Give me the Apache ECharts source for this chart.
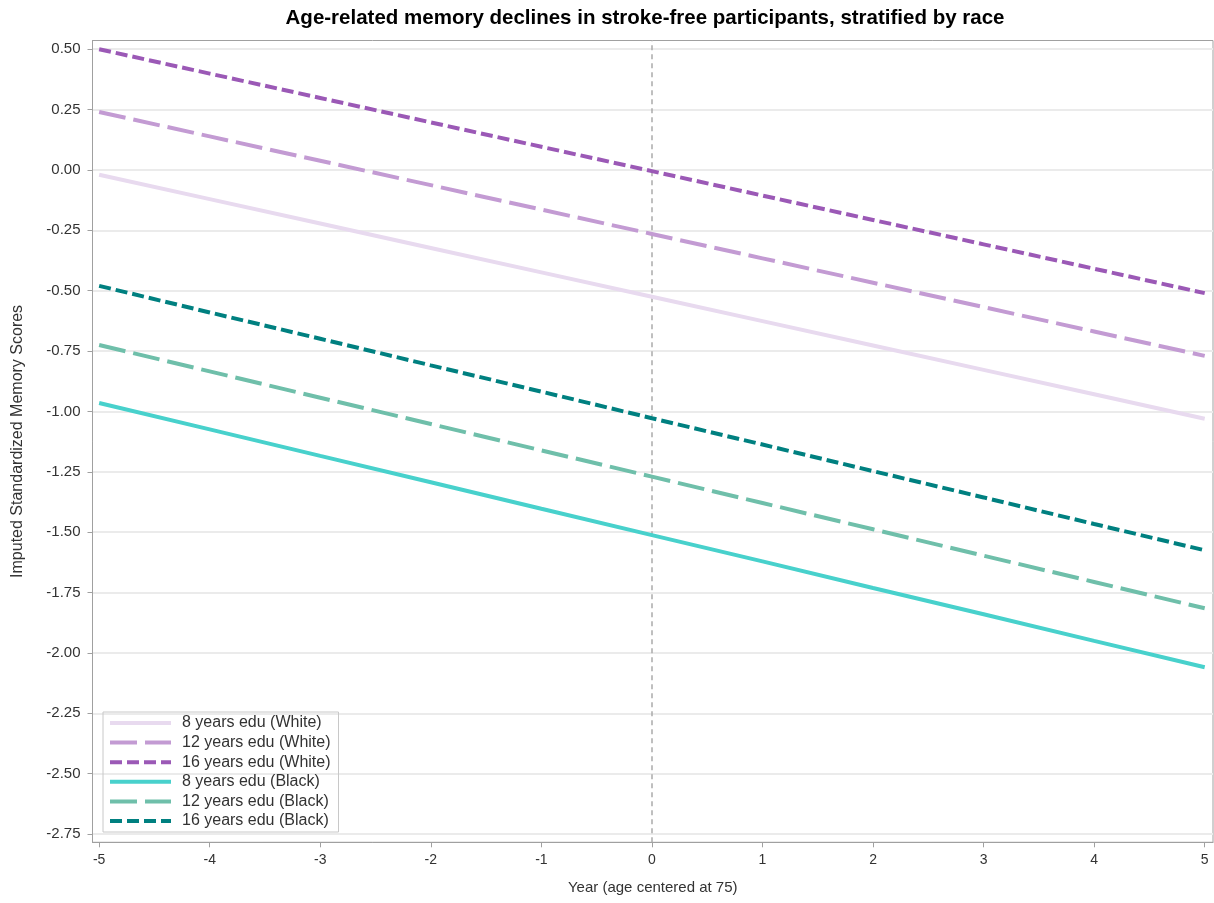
<!DOCTYPE html>
<html>
<head>
<meta charset="utf-8">
<script src="https://cdn.jsdelivr.net/npm/echarts@6/dist/echarts.min.js"></script>
<style>
html,body{margin:0;padding:0;background:#fff;}
#chart{width:1214px;height:903px;}
</style>
</head>
<body>
<div id="chart"></div>
<script>
const years = [-5, -4, -3, -2, -1, 0, 1, 2, 3, 4, 5];
const yTicks = [-2.75, -2.5, -2.25, -2, -1.75, -1.5, -1.25, -1, -0.75, -0.5, -0.25, 0, 0.25, 0.5];
const seriesNames = ['8 years edu (White)', '12 years edu (White)', '16 years edu (White)',
                     '8 years edu (Black)', '12 years edu (Black)', '16 years edu (Black)'];
const white8  = [-0.020, -0.121, -0.222, -0.323, -0.424, -0.525, -0.626, -0.727, -0.828, -0.929, -1.030];
const white12 = [0.240, 0.139, 0.038, -0.063, -0.164, -0.265, -0.366, -0.467, -0.568, -0.669, -0.770];
const white16 = [0.500, 0.399, 0.298, 0.197, 0.096, -0.005, -0.106, -0.207, -0.308, -0.409, -0.510];
const black8  = [-0.965, -1.074, -1.184, -1.293, -1.403, -1.512, -1.621, -1.731, -1.840, -1.950, -2.059];
const black12 = [-0.725, -0.834, -0.943, -1.052, -1.161, -1.270, -1.379, -1.488, -1.597, -1.706, -1.815];
const black16 = [-0.480, -0.590, -0.699, -0.809, -0.918, -1.028, -1.137, -1.247, -1.356, -1.466, -1.575];

const allValues = [white8, white12, white16, black8, black12, black16];
const colors = ['#e8daef', '#c39bd3', '#9b59b6', '#48d1cc', '#6fbfaa', '#008080'];
const dashes = ['solid', [27, 8], [12, 5], 'solid', [27, 8], [12, 5]];

const font = '"Liberation Sans", Arial, sans-serif';
const chart = echarts.init(document.getElementById('chart'), null, {renderer: 'canvas'});

const series = seriesNames.map((name, i) => ({
  name: name,
  type: 'line',
  data: years.map((x, j) => [x, allValues[i][j]]),
  symbol: 'none',
  showSymbol: false,
  silent: true,
  z: 3,
  lineStyle: {color: colors[i], width: 4, type: dashes[i], cap: 'butt'},
  itemStyle: {color: colors[i]},
  markLine: i === 0 ? {
    silent: true,
    symbol: 'none',
    label: {show: false},
    lineStyle: {color: '#aaaaaa', type: [5, 4], width: 1.5},
    data: [{xAxis: 0}],
    z: 1
  } : undefined
}));

chart.setOption({
  backgroundColor: '#ffffff',
  animation: false,
  title: {
    text: 'Age-related memory declines in stroke-free participants, stratified by race',
    left: 640,
    textAlign: 'center',
    top: 3,
    textStyle: {fontFamily: font, fontSize: 20.5, fontWeight: 'bold', color: '#000'}
  },
  grid: {
    left: 92.5, right: 1, top: 40.5, bottom: 60.7,
    show: true, borderColor: '#a0a0a0', borderWidth: 1, backgroundColor: 'transparent'
  },
  legend: {
    orient: 'vertical',
    left: 103, top: 712,
    padding: [3, 8, 3, 5],
    itemWidth: 61, itemHeight: 14, itemGap: 3.6,
    borderColor: '#c8c8c8', borderWidth: 1,
    backgroundColor: 'transparent',
    itemStyle: {opacity: 0},
    lineStyle: {width: 4},
    data: seriesNames,
    textStyle: {fontFamily: font, fontSize: 16, color: '#333', padding: [0, 0, 0, 6]}
  },
  xAxis: {
    type: 'value',
    min: -5.06, max: 5.075,
    name: 'Year (age centered at 75)',
    nameLocation: 'middle',
    nameGap: 38,
    nameTextStyle: {fontFamily: font, fontSize: 15, color: '#333'},
    axisLine: {show: true, onZero: false, lineStyle: {color: '#a0a0a0', width: 1}},
    axisTick: {show: true, length: 5, lineStyle: {color: '#a0a0a0'}, customValues: years},
    axisLabel: {fontFamily: font, fontSize: 14, color: '#333', margin: 11, customValues: years,
      formatter: v => String(Math.round(v))},
    splitLine: {show: false}
  },
  yAxis: {
    type: 'value',
    min: -2.784, max: 0.536,
    name: 'Imputed Standardized Memory Scores',
    nameLocation: 'middle',
    nameGap: 67,
    nameTextStyle: {fontFamily: font, fontSize: 16, color: '#333'},
    axisLine: {show: true, onZero: false, lineStyle: {color: '#a0a0a0', width: 1}},
    axisTick: {show: true, length: 5, lineStyle: {color: '#a0a0a0'}, customValues: yTicks},
    axisLabel: {fontFamily: font, fontSize: 15, color: '#333', margin: 12, customValues: yTicks,
      formatter: v => v.toFixed(2)},
    splitLine: {show: true, lineStyle: {color: '#ebebeb', width: 2}}
  },
  series: series
});
</script>
</body>
</html>
